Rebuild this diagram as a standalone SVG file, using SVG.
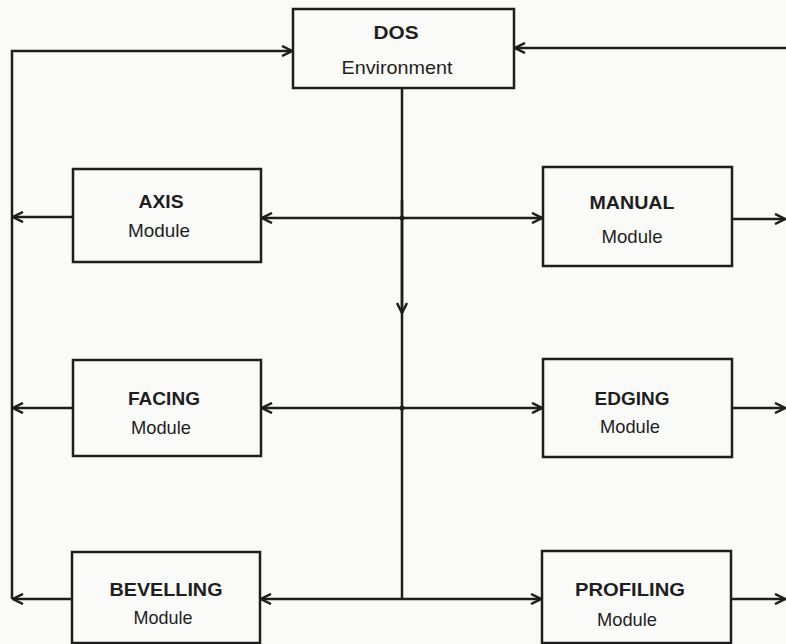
<svg xmlns="http://www.w3.org/2000/svg" width="786" height="644" viewBox="0 0 786 644">
<style>
.bx{fill:none;stroke:#1e1e1e;stroke-width:2.5}
.ln{fill:none;stroke:#1e1e1e;stroke-width:2.5}
.t{font-family:"Liberation Sans",Arial,sans-serif;font-weight:bold;font-size:18px;fill:#1e1e1e;text-anchor:middle}
.m{font-family:"Liberation Sans",Arial,sans-serif;font-size:19px;fill:#1e1e1e;text-anchor:middle}
</style>
<defs>
<marker id="arr" viewBox="0 0 12 12" refX="11" refY="6" markerWidth="12" markerHeight="12" markerUnits="userSpaceOnUse" orient="auto-start-reverse">
<path d="M1,1 L11,6 L1,11" fill="none" stroke="#1e1e1e" stroke-width="2.5"/>
</marker>
</defs>
<rect width="786" height="644" fill="#fafaf8"/>
<g id="connectors">
<path class="ln" d="M12,599 V51 H292" marker-end="url(#arr)"/>
<path class="ln" d="M786,48 H515" marker-end="url(#arr)"/>
<path class="ln" d="M402,88 V599"/>
<path class="ln" d="M402,200 V313" marker-end="url(#arr)"/>
<path class="ln" d="M262,218 H542" marker-start="url(#arr)" marker-end="url(#arr)"/>
<path class="ln" d="M73,217 H13" marker-end="url(#arr)"/>
<path class="ln" d="M732,219 H785" marker-end="url(#arr)"/>
<path class="ln" d="M262,408 H542" marker-start="url(#arr)" marker-end="url(#arr)"/>
<path class="ln" d="M73,408 H13" marker-end="url(#arr)"/>
<path class="ln" d="M732,408 H785" marker-end="url(#arr)"/>
<path class="ln" d="M261,599 H541" marker-start="url(#arr)" marker-end="url(#arr)"/>
<path class="ln" d="M72,599 H13" marker-end="url(#arr)"/>
<path class="ln" d="M731,599 H785" marker-end="url(#arr)"/>
<circle cx="402" cy="218" r="2.5" fill="#1e1e1e"/>
<circle cx="402" cy="408" r="2.5" fill="#1e1e1e"/>
</g>
<g id="dos">
<rect class="bx" x="293" y="9" width="221" height="79"/>
<text class="t" x="396" y="39" textLength="45" lengthAdjust="spacingAndGlyphs">DOS</text>
<text class="m" x="397" y="74" textLength="111" lengthAdjust="spacingAndGlyphs">Environment</text>
</g>
<g id="axis">
<rect class="bx" x="73" y="169" width="188" height="93"/>
<text class="t" x="161" y="208" textLength="45" lengthAdjust="spacingAndGlyphs">AXIS</text>
<text class="m" x="159" y="237" textLength="62" lengthAdjust="spacingAndGlyphs">Module</text>
</g>
<g id="manual">
<rect class="bx" x="543" y="167" width="189" height="99"/>
<text class="t" x="632" y="209" textLength="85" lengthAdjust="spacingAndGlyphs">MANUAL</text>
<text class="m" x="632" y="243" textLength="61" lengthAdjust="spacingAndGlyphs">Module</text>
</g>
<g id="facing">
<rect class="bx" x="73" y="360" width="188" height="96"/>
<text class="t" x="164" y="405" textLength="72" lengthAdjust="spacingAndGlyphs">FACING</text>
<text class="m" x="161" y="434" textLength="60" lengthAdjust="spacingAndGlyphs">Module</text>
</g>
<g id="edging">
<rect class="bx" x="543" y="359" width="189" height="98"/>
<text class="t" x="632" y="405" textLength="75" lengthAdjust="spacingAndGlyphs">EDGING</text>
<text class="m" x="630" y="433" textLength="60" lengthAdjust="spacingAndGlyphs">Module</text>
</g>
<g id="bevelling">
<rect class="bx" x="72" y="552" width="188" height="91"/>
<text class="t" x="166" y="596" textLength="113" lengthAdjust="spacingAndGlyphs">BEVELLING</text>
<text class="m" x="163" y="624" textLength="59" lengthAdjust="spacingAndGlyphs">Module</text>
</g>
<g id="profiling">
<rect class="bx" x="542" y="551" width="189" height="92"/>
<text class="t" x="630" y="596" textLength="110" lengthAdjust="spacingAndGlyphs">PROFILING</text>
<text class="m" x="627" y="626" textLength="60" lengthAdjust="spacingAndGlyphs">Module</text>
</g>
</svg>
